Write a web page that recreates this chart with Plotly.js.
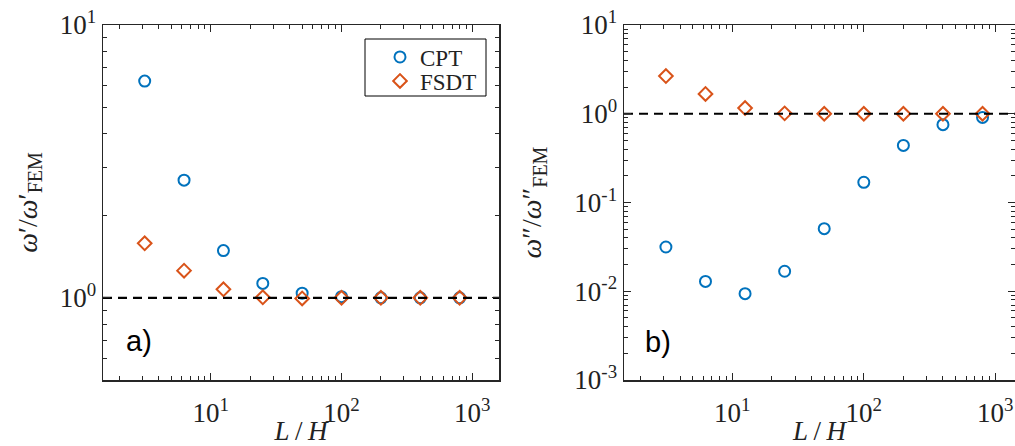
<!DOCTYPE html>
<html>
<head>
<meta charset="utf-8">
<script src="https://cdn.plot.ly/plotly-3.0.1.min.js"></script>
<style>html,body{margin:0;padding:0;background:#fff;overflow:hidden}</style>
</head>
<body>
<div id="chart" style="width:1015px;height:446px"></div>
<script>
// L/H ratios
const ratioLH = [3.125, 6.25, 12.5, 25, 50, 100, 200, 400, 800];
// panel a) omega' / omega'_FEM
const cptA  = [6.23, 2.70, 1.49, 1.13, 1.04, 1.01, 1.00, 1.00, 1.00];
const fsdtA = [1.585, 1.258, 1.075, 1.005, 0.995, 1.00, 1.00, 1.00, 1.00];
// panel b) omega'' / omega''_FEM
const cptB  = [0.0315, 0.0129, 0.0094, 0.0168, 0.0507, 0.169, 0.44, 0.753, 0.91];
const fsdtB = [2.66, 1.67, 1.16, 1.01, 1.00, 1.00, 1.00, 1.00, 1.00];
// reference line (ratio = 1)
const refX = [1.5, 1600];
const refY = [1, 1];
// tick labels
const xTickVals = [10, 100, 1000];
const xTickText = ['10<sup>1</sup>', '10<sup>2</sup>', '10<sup>3</sup>'];
const yaTickVals = [1, 10];
const yaTickText = ['10<sup>0</sup>', '10<sup>1</sup>'];
const ybTickVals = [0.001, 0.01, 0.1, 1, 10];
const ybTickText = ['10<sup>-3</sup>', '10<sup>-2</sup>', '10<sup>-1</sup>', '10<sup>0</sup>', '10<sup>1</sup>'];

const blue = '#0072BD', orange = '#D95319', axc = '#262626';
const serif = 'Liberation Serif, Times New Roman, serif';

function minorVals(lo, hi) {
  const v = [];
  for (let e = lo; e < hi; e++) for (let m = 2; m <= 9; m++) v.push(m * Math.pow(10, e));
  return v;
}

function mk(x, y, name, sym, col, xa, ya, show, size, lg) {
  const t = {x: x, y: y, name: name, type: 'scatter', mode: 'markers', xaxis: xa, yaxis: ya,
    showlegend: show, marker: {symbol: sym, size: size, color: col, line: {color: col, width: 2}}};
  if (lg) t.legend = lg;
  return t;
}
function ref(xa, ya) {
  return {x: refX, y: refY, type: 'scatter', mode: 'lines', xaxis: xa, yaxis: ya, showlegend: false,
    line: {color: '#000', width: 2.2, dash: '9px,6px'}, hoverinfo: 'skip'};
}
const data = [
  mk(ratioLH, cptA, 'CPT', 'circle-open', blue, 'x', 'y', true, 11, 'legend'),
  mk(ratioLH, fsdtA, 'FSDT', 'diamond-open', orange, 'x', 'y', true, 10.5, 'legend2'),
  ref('x', 'y'),
  mk(ratioLH, cptB, 'CPT', 'circle-open', blue, 'x2', 'y2', false, 11),
  mk(ratioLH, fsdtB, 'FSDT', 'diamond-open', orange, 'x2', 'y2', false, 10.5),
  ref('x2', 'y2')
];

function common(tv, tt, mv) {
  return {type: 'log', tickmode: 'array', tickvals: tv, ticktext: tt,
    showgrid: false, zeroline: false, showline: true, linecolor: axc, linewidth: 1.5, mirror: 'allticks',
    ticks: 'inside', ticklen: 7, tickcolor: axc, tickwidth: 1.2,
    minor: {tickmode: 'array', tickvals: mv, ticks: 'inside', ticklen: 4, tickcolor: axc, tickwidth: 1, showgrid: false},
    tickfont: {family: serif, size: 27, color: '#222'}};
}
function xax(dom, rng, anchor) {
  return Object.assign(common(xTickVals, xTickText, minorVals(0, 4)), {domain: dom, range: rng, anchor: anchor,
    ticklabelstandoff: 8,
    title: {text: '<i>L</i>\u2009/\u2009<i>H</i>', font: {family: serif, size: 27, color: '#222'}, standoff: 0}});
}
function yax(dom, rng, anchor, tv, tt, mv, title, so) {
  return Object.assign(common(tv, tt, mv), {domain: dom, range: rng, anchor: anchor,
    title: {text: title, font: {family: serif, size: 28, color: '#222'}, standoff: so}});
}
const sub = '<sub><span style="font-size:20px">FEM</span></sub>';
const yDom = [1 - 380 / 446, 1 - 25 / 446];
const legFont = {family: serif, size: 23, color: '#222'};
const layout = {
  width: 1015, height: 446, paper_bgcolor: '#fff', plot_bgcolor: '#fff',
  margin: {l: 0, r: 0, t: 0, b: 0},
  xaxis: xax([103 / 1015, 499 / 1015], [Math.log10(1.5), Math.log10(1600)], 'y'),
  yaxis: yax(yDom, [Math.log10(0.5), 1], 'x', yaTickVals, yaTickText, minorVals(-1, 1), '<i>ω</i>′/<i>ω</i>′' + sub, 14),
  xaxis2: xax([624 / 1015, 1], [Math.log10(1.5), 3.15], 'y2'),
  yaxis2: yax(yDom, [-3, 1], 'x2', ybTickVals, ybTickText, minorVals(-3, 1), '<i>ω</i>″/<i>ω</i>″' + sub, 24),
  showlegend: true,
  legend: {x: 380 / 1015, y: 1 - 57 / 446, xanchor: 'left', yanchor: 'middle', bgcolor: 'rgba(0,0,0,0)',
    borderwidth: 0, font: legFont, itemwidth: 30},
  legend2: {x: 380 / 1015, y: 1 - 81 / 446, xanchor: 'left', yanchor: 'middle', bgcolor: 'rgba(0,0,0,0)',
    borderwidth: 0, font: legFont, itemwidth: 30},
  shapes: [
    {type: 'rect', xref: 'paper', yref: 'paper', x0: 365 / 1015, x1: 486 / 1015, y0: 1 - 96 / 446, y1: 1 - 39 / 446,
      line: {color: '#000', width: 1}, fillcolor: '#fff', layer: 'above'}
  ],
  annotations: [
    {text: 'a)', xref: 'paper', yref: 'paper', x: 139 / 1015, y: 1 - 341 / 446, xanchor: 'center', yanchor: 'middle',
      showarrow: false, font: {family: 'Liberation Sans, Arial, sans-serif', size: 29, color: '#000'}},
    {text: 'b)', xref: 'paper', yref: 'paper', x: 658 / 1015, y: 1 - 342 / 446, xanchor: 'center', yanchor: 'middle',
      showarrow: false, font: {family: 'Liberation Sans, Arial, sans-serif', size: 29, color: '#000'}}
  ]
};
Plotly.newPlot('chart', data, layout, {displayModeBar: false, staticPlot: true});
</script>
</body>
</html>
